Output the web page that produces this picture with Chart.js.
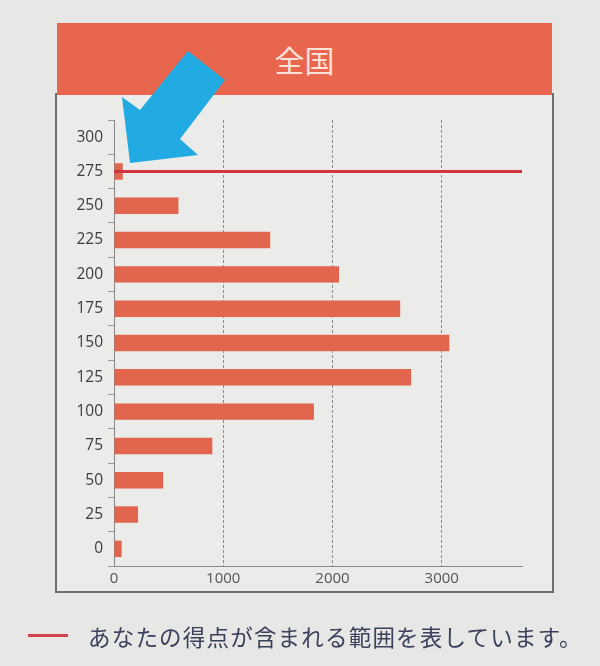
<!DOCTYPE html>
<html>
<head>
<meta charset="utf-8">
<script src="https://cdn.jsdelivr.net/npm/chart.js@4/dist/chart.umd.min.js"></script>
<style>
  html,body{margin:0;padding:0;}
  body{width:600px;height:666px;background:#e7e7e5;position:relative;overflow:hidden;font-family:"Noto Sans CJK JP","Noto Sans",sans-serif;}
  #panel{position:absolute;left:55px;top:93px;width:495px;height:496px;border:2px solid #6e6e6e;background:#ebebe9;}
  #header{position:absolute;left:57px;top:23px;width:495px;height:72px;background:#e8654e;color:#fde2da;font-size:30px;line-height:72px;text-align:center;font-family:"Noto Sans CJK JP",sans-serif;}
  #wrap{position:absolute;left:0;top:0;width:600px;height:666px;}
  #arrow{position:absolute;left:0;top:0;width:600px;height:666px;pointer-events:none;}
  #legline{position:absolute;left:28px;top:634px;width:40px;height:3px;background:#d2434d;}
  #legtext{position:absolute;left:88px;top:620px;font-size:22.5px;letter-spacing:1.2px;line-height:32px;color:#3b405c;font-family:"Noto Sans CJK JP",sans-serif;white-space:nowrap;}
</style>
</head>
<body>
<div id="panel"></div>
<div id="header">全国</div>
<div id="wrap"><canvas id="c" width="600" height="666"></canvas></div>
<svg id="arrow" width="600" height="666"><polygon points="188,51 225,80 180,139 198,155 130,163 122,97 140,110" fill="#22aae2"/></svg>
<div id="legline"></div>
<div id="legtext">あなたの得点が含まれる範囲を表しています。</div>
<script>
const scoreLabels = ['300','275','250','225','200','175','150','125','100','75','50','25','0'];
const counts = [0, 80, 590, 1430, 2060, 2620, 3070, 2720, 1830, 900, 450, 220, 70];
const xTicks = [0, 1000, 2000, 3000];
const xMax = 3735;
const myRange = '275';

const ctx = document.getElementById('c').getContext('2d');
new Chart(ctx, {
  data: {
    labels: scoreLabels,
    datasets: [
      {
        type: 'bar',
        label: '人数',
        data: counts,
        backgroundColor: '#e2654e',
        borderWidth: 0,
        barPercentage: 0.48,
        categoryPercentage: 1,
        order: 2
      },
      {
        type: 'line',
        label: 'あなたの得点が含まれる範囲',
        data: [{x: 0, y: myRange}, {x: xMax, y: myRange}],
        borderColor: '#d0343f',
        borderWidth: 3,
        pointRadius: 0,
        fill: false,
        order: 1
      }
    ]
  },
  options: {
    indexAxis: 'y',
    responsive: false,
    animation: false,
    devicePixelRatio: 1,
    layout: {padding: {left: 0, right: 78, top: 120, bottom: 70}},
    plugins: {legend: {display: false}, tooltip: {enabled: false}, title: {display: false}},
    scales: {
      x: {
        type: 'linear',
        min: 0,
        max: xMax,
        afterBuildTicks: s => { s.ticks = xTicks.map(v => ({value: v})); },
        afterFit: s => { s.height = 30; },
        ticks: {
          callback: v => String(v),
          color: '#555',
          font: {family: '"Open Sans", sans-serif', size: 15},
          padding: 4
        },
        grid: {
          color: ctx => ctx.tick && ctx.tick.value === 0 ? 'rgba(0,0,0,0)' : '#8a8a8a',
          lineWidth: 1,
          drawTicks: false
        },
        border: {display: true, color: '#888', width: 1, dash: [3, 2]}
      },
      y: {
        type: 'category',
        offset: true,
        afterFit: s => { s.width = 114; },
        ticks: {
          color: '#3c3c3c',
          font: {family: '"Open Sans", sans-serif', size: 15.5},
          padding: 5
        },
        grid: {
          offset: true,
          drawOnChartArea: false,
          drawTicks: true,
          tickLength: 6,
          color: '#999',
          lineWidth: 1
        },
        border: {display: true, color: '#888', width: 1}
      }
    }
  }
});
</script>
</body>
</html>
